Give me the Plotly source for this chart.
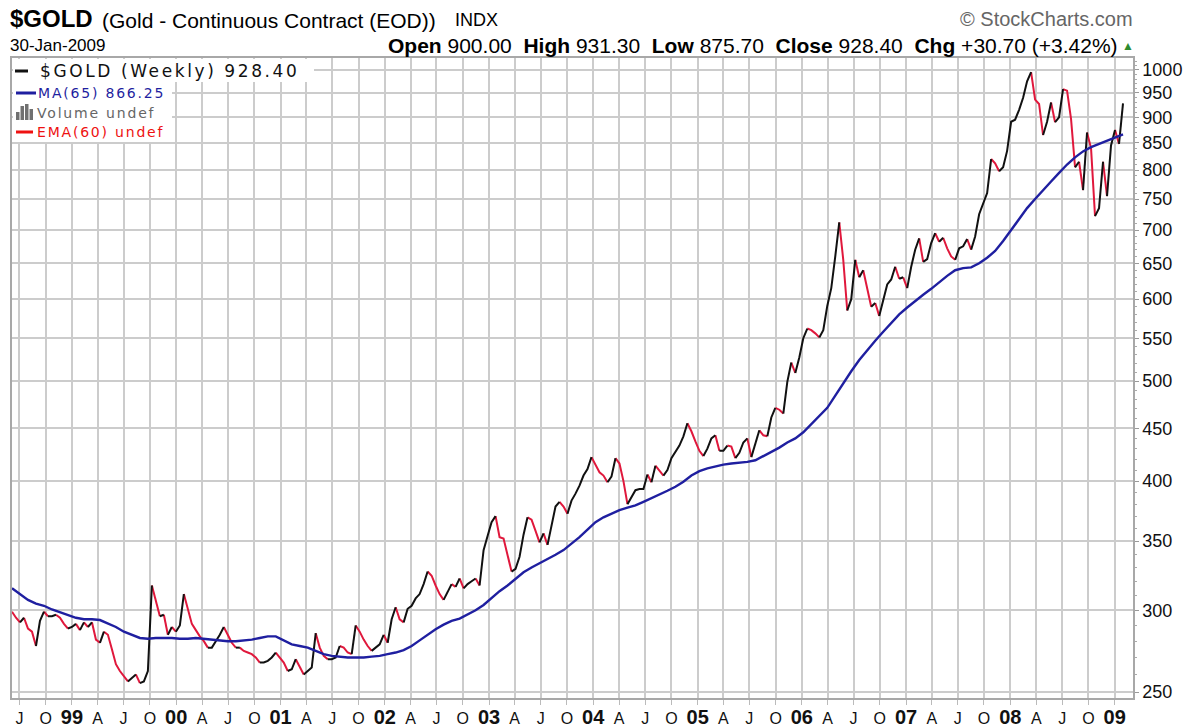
import math
import pandas as pd
import plotly.graph_objects as go

# $GOLD weekly close, every second week from 1998-06-05
gold_1998 = [299, 295, 292, 295, 288, 286, 277, 293, 299, 296, 296, 297, 295, 291, 288]
gold_1999 = [289, 291, 287, 292, 289, 292, 281, 279, 286, 284, 275, 266, 262, 259, 256, 258,
             260, 255, 256, 262, 317, 306, 296, 297, 284, 289]
gold_2000 = [286, 290, 311, 300, 291, 287, 283, 280, 276, 276, 280, 284, 289, 284, 279, 276,
             276, 274, 273, 272, 270, 267, 267, 268, 270, 273]
gold_2001 = [270, 267, 262, 263, 269, 264, 260, 262, 264, 285, 276, 271, 269, 269, 270, 277,
             276, 273, 272, 290, 286, 281, 277, 274, 276, 278]
gold_2002 = [284, 279, 294, 302, 294, 292, 301, 303, 308, 311, 318, 327, 324, 317, 311, 307,
             313, 318, 316, 322, 315, 318, 320, 322, 317, 343]
gold_2003 = [354, 365, 370, 353, 352, 338, 327, 329, 338, 355, 369, 367, 358, 349, 356, 347,
             363, 378, 382, 378, 372, 383, 389, 396, 405, 411]
gold_2004 = [422, 415, 408, 405, 399, 404, 421, 416, 400, 380, 386, 392, 393, 393, 406, 399,
             414, 409, 405, 410, 421, 427, 433, 442, 455, 447]
gold_2005 = [437, 428, 423, 430, 440, 443, 428, 428, 433, 432, 421, 426, 436, 440, 422, 436,
             448, 443, 442, 461, 471, 469, 465, 499, 521, 509]
gold_2006 = [527, 550, 562, 560, 556, 551, 560, 591, 615, 660, 712, 655, 585, 600, 655, 630,
             640, 615, 590, 595, 578, 598, 620, 627, 645, 628]
gold_2007 = [630, 615, 645, 670, 687, 652, 656, 680, 695, 682, 688, 672, 660, 655, 672, 675,
             686, 670, 690, 725, 744, 760, 820, 812, 798, 805]
gold_2008 = [835, 891, 895, 915, 940, 975, 995, 936, 927, 865, 891, 930, 890, 900, 958, 955,
             896, 805, 815, 765, 870, 840, 722, 735, 815, 755]
gold_2009 = [845, 875, 848, 928.40]

# MA(65), read every fourth week from 1998-06-05
ma_1998_2001 = [315, 311, 307, 304.5, 303, 300.5, 298.5, 297, 295, 294, 294, 293.5, 291.5, 289,
                286, 284, 282, 281.5, 282, 282, 282, 281.5, 281.5, 282, 281.5, 281, 280.5, 280,
                280, 280.5, 281, 282, 283, 283, 280.5, 278, 277, 276, 274, 272, 271, 270.5,
                270, 270, 270]
ma_2002_2005 = [270.5, 271, 272, 273, 274.5, 277, 280.5, 284, 287.5, 290.5, 293, 294.5, 297,
                300, 303.5, 308.5, 313, 317, 321.5, 326.5, 330, 333, 336, 339.5, 343, 348, 353,
                359, 365, 369, 372, 375, 377, 379, 382, 385, 388.5, 391.5, 395, 399.5, 405, 409,
                411.5, 413.5, 415, 416, 416.5, 417.5, 419, 423, 427, 431, 436, 440]
ma_2006_2009 = [446, 454, 462, 471, 484, 498, 511, 524, 536, 547, 558, 569, 580, 589, 598, 606,
                614, 623, 632, 640, 643, 644, 650, 658, 668, 683, 700, 718, 735, 750, 764, 780,
                795, 810, 823, 834, 842, 848, 855, 861, 866.25]

tick_labels = ["J", "O", "99", "A", "J", "O", "00", "A", "J", "O", "01", "A", "J", "O", "02",
               "A", "J", "O", "03", "A", "J", "O", "04", "A", "J", "O", "05", "A", "J", "O",
               "06", "A", "J", "O", "07", "A", "J", "O", "08", "A", "J", "O", "09"]
y_ticks = list(range(250, 1001, 50))

price = (gold_1998 + gold_1999 + gold_2000 + gold_2001 + gold_2002 + gold_2003 + gold_2004
         + gold_2005 + gold_2006 + gold_2007 + gold_2008 + gold_2009)
ma65 = ma_1998_2001 + ma_2002_2005 + ma_2006_2009
dates = pd.date_range("1998-06-05", periods=len(price), freq="14D")
ma_dates = pd.date_range("1998-06-05", periods=len(ma65), freq="28D")
tick_dates = pd.date_range("1998-07-01", periods=len(tick_labels), freq="QS-JAN")
tick_text = [
    f'<b><span style="font-size:20px">{t}</span></b>' if t.isdigit() else t
    for t in tick_labels
]

W, H = 1197, 727
L, R, T, B = 12, 1133, 58, 698


def px(x):
    return (x - L) / (R - L)


def py(y):
    return (B - y) / (B - T)


def runs(xs, ys):
    # join consecutive weeks that move the same way into one polyline
    out = {True: ([], []), False: ([], [])}
    k = 1
    while k < len(ys):
        up = ys[k] >= ys[k - 1]
        j = k
        while j + 1 < len(ys) and (ys[j + 1] >= ys[j]) == up:
            j += 1
        xx, yy = out[up]
        xx += list(xs[k - 1:j + 1]) + [None]
        yy += list(ys[k - 1:j + 1]) + [None]
        k = j + 1
    return out


segs = runs(list(dates), price)

fig = go.Figure()

# falling weeks red, rising weeks black
fig.add_trace(go.Scatter(
    x=segs[False][0], y=segs[False][1], mode="lines",
    line=dict(color="#e0183c", width=2), hoverinfo="skip", showlegend=False,
))
fig.add_trace(go.Scatter(
    x=segs[True][0], y=segs[True][1], mode="lines",
    line=dict(color="#111111", width=2), hoverinfo="skip", showlegend=False,
))
fig.add_trace(go.Scatter(
    x=ma_dates, y=ma65, mode="lines",
    line=dict(color="#1f1fa0", width=2.4), showlegend=False,
))

grid = "#cccccc"
fig.update_xaxes(
    type="date",
    range=["1998-06-05", "2009-03-06"],
    tickvals=tick_dates, ticktext=tick_text,
    tickfont=dict(family="Liberation Sans, Arial", size=16, color="#111"),
    ticks="outside", ticklen=5, tickcolor="#bbbbbb",
    showgrid=True, gridcolor=grid, gridwidth=1.5,
    showline=True, linecolor="#a8a8a8", linewidth=1.5, mirror=True,
    zeroline=False, automargin=False,
)
fig.update_yaxes(
    type="log",
    range=[math.log10(246.7), math.log10(1027)],
    side="right",
    tickvals=y_ticks, ticktext=[str(v) for v in y_ticks],
    tickfont=dict(family="Liberation Sans, Arial", size=18, color="#111"),
    ticks="outside", ticklen=4, tickcolor="#999999",
    minor=dict(tickvals=[v for v in range(260, 1030, 10) if v % 50],
               ticks="outside", ticklen=2, tickcolor="#aaaaaa", showgrid=False),
    showgrid=True, gridcolor=grid, gridwidth=1.5,
    showline=True, linecolor="#a8a8a8", linewidth=1.5, mirror=True,
    zeroline=False, automargin=False,
)

shapes = [
    dict(type="rect", xref="paper", yref="paper", x0=px(13), x1=px(314), y0=py(82), y1=py(59),
         fillcolor="white", line=dict(width=0), layer="above"),
    dict(type="rect", xref="paper", yref="paper", x0=px(13), x1=px(172), y0=py(142), y1=py(82),
         fillcolor="white", line=dict(width=0), layer="above"),
    dict(type="line", xref="paper", yref="paper", x0=px(15), x1=px(28), y0=py(71), y1=py(71),
         line=dict(color="#111", width=3), layer="above"),
    dict(type="line", xref="paper", yref="paper", x0=px(16), x1=px(36), y0=py(93), y1=py(93),
         line=dict(color="#1f1fa0", width=3), layer="above"),
    dict(type="line", xref="paper", yref="paper", x0=px(16), x1=px(33), y0=py(132), y1=py(132),
         line=dict(color="#ee1111", width=3), layer="above"),
]
for x0, top in [(16, 112), (20.5, 106), (25, 104), (29.5, 109)]:
    shapes.append(dict(type="rect", xref="paper", yref="paper", x0=px(x0), x1=px(x0 + 3.5),
                       y0=py(120), y1=py(top), fillcolor="#707070", line=dict(width=0),
                       layer="above"))

nb = "\u00a0"
annots = [
    dict(text="<b>$GOLD</b>", x=px(8), y=py(19), size=24, color="#000"),
    dict(text="(Gold - Continuous Contract (EOD))", x=px(100), y=py(20), size=21, color="#000"),
    dict(text="INDX", x=px(453), y=py(20), size=18, color="#000"),
    dict(text="© StockCharts.com", x=px(1135), y=py(19), size=20, color="#666", anchor="right"),
    dict(text="30-Jan-2009", x=px(8), y=py(45), size=17, color="#000"),
    dict(text=(f"<b>Open</b> 900.00{nb}{nb}<b>High</b> 931.30{nb}{nb}<b>Low</b> 875.70{nb}{nb}"
               f"<b>Close</b> 928.40{nb}{nb}<b>Chg</b> +30.70 (+3.42%)"),
         x=px(1120), y=py(45), size=21, color="#000", anchor="right"),
    dict(text="▲", x=px(1136), y=py(46), size=12, color="#2e8b2e", anchor="right"),
    dict(text='<span style="letter-spacing:2.6px">$GOLD (Weekly) 928.40</span>',
         x=px(38), y=py(71), size=17, color="#111", family="DejaVu Sans"),
    dict(text='<span style="letter-spacing:1.8px">MA(65) 866.25</span>',
         x=px(36), y=py(93), size=14, color="#1f1fa0", family="DejaVu Sans"),
    dict(text='<span style="letter-spacing:1.8px">Volume undef</span>',
         x=px(35), y=py(113), size=14, color="#666", family="DejaVu Sans"),
    dict(text='<span style="letter-spacing:1.8px">EMA(60) undef</span>',
         x=px(35), y=py(132), size=14, color="#ee1111", family="DejaVu Sans"),
]
fig.update_layout(annotations=[
    dict(text=a["text"], x=a["x"], y=a["y"], xref="paper", yref="paper",
         xanchor=a.get("anchor", "left"), yanchor="middle", showarrow=False,
         font=dict(family=a.get("family", "Liberation Sans, Arial"), size=a["size"],
                   color=a["color"]))
    for a in annots
])

fig.update_layout(
    width=W, height=H,
    margin=dict(l=L, r=W - R, t=T, b=H - B, autoexpand=False),
    paper_bgcolor="white", plot_bgcolor="white",
    shapes=shapes,
    showlegend=False,
)

# the page's default body margin would shift the whole figure by 8px
fig.write_html("out.html", config={"displayModeBar": False},
               post_script="document.body.style.margin='0';")
